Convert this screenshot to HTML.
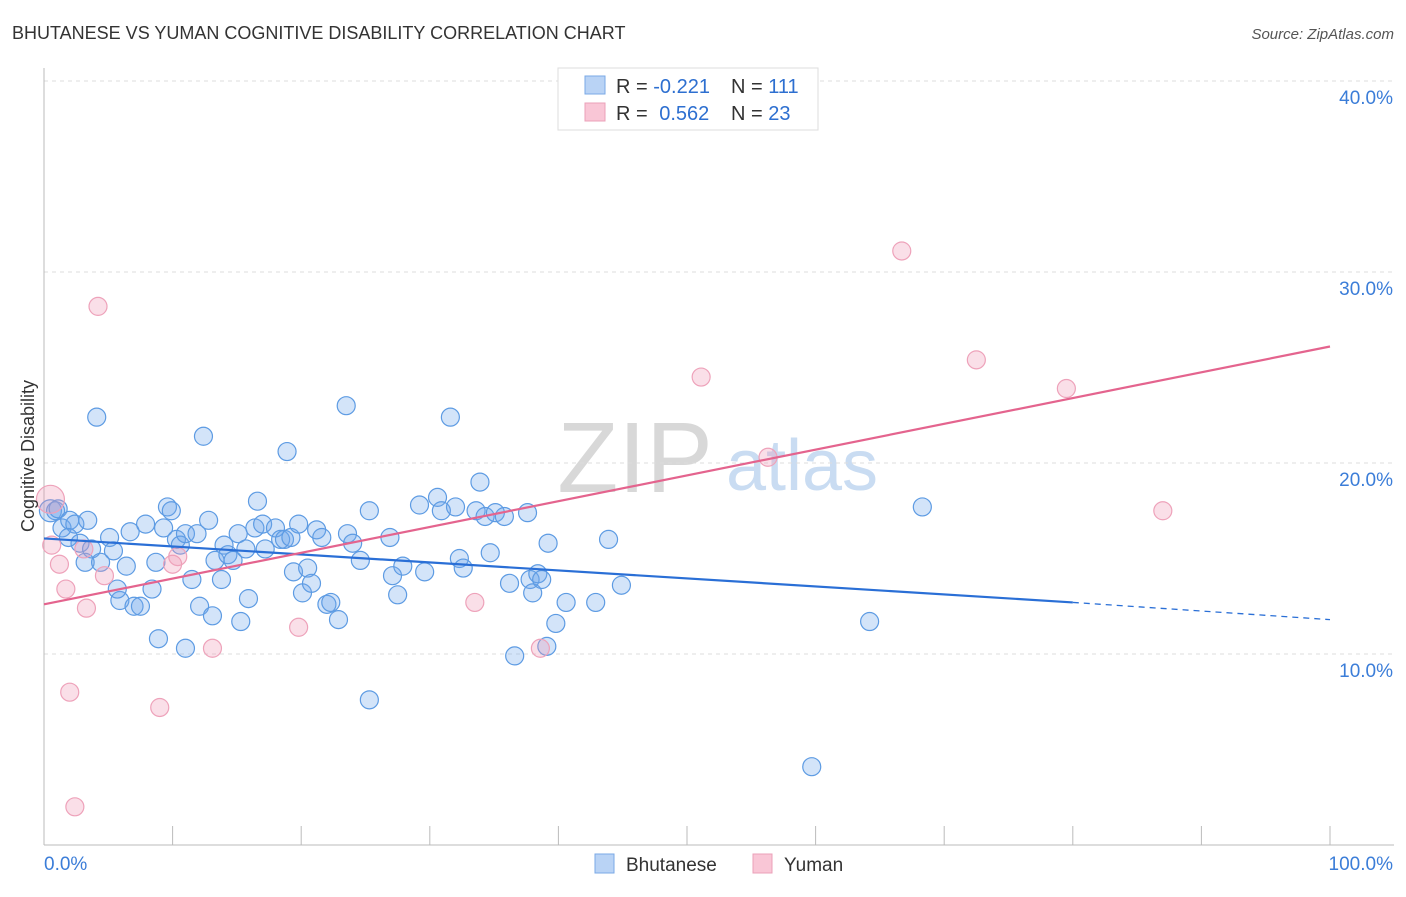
<!DOCTYPE html>
<html><head><meta charset="utf-8">
<style>
body{margin:0;background:#fff;font-family:"Liberation Sans",sans-serif;}
svg text{font-family:"Liberation Sans",sans-serif;}
</style></head>
<body>
<svg id="chart" width="1406" height="892" viewBox="0 0 1406 892">
<text x="12" y="39" font-size="18" fill="#333">BHUTANESE VS YUMAN COGNITIVE DISABILITY CORRELATION CHART</text>
<text x="1394" y="39" font-size="15" fill="#555" font-style="italic" text-anchor="end">Source: ZipAtlas.com</text>
<g>
<text x="635" y="492" font-size="100" fill="#d8d8d8" font-family="Liberation Serif" text-anchor="middle">ZIP</text>
<text x="802" y="490" font-size="72" fill="#c9dcf2" text-anchor="middle">atlas</text>
</g>
<g id="grid"></g>
<g id="axes"></g>
<g id="marks"></g>
<g id="lines"></g>
<text transform="translate(34,456) rotate(-90)" font-size="18" fill="#333" text-anchor="middle">Cognitive Disability</text>
<g>
<rect x="558" y="68" width="260" height="62" fill="#fff" stroke="#ddd"/>
<rect x="585" y="76" width="20" height="18" fill="#b9d3f5" stroke="#7aa8e6"/>
<rect x="585" y="103" width="20" height="18" fill="#f9c6d6" stroke="#eba0b8"/>
<text x="616" y="93" font-size="20" fill="#333">R = <tspan fill="#2d6fd0">-0.221</tspan></text>
<text x="731" y="93" font-size="20" fill="#333">N = <tspan fill="#2d6fd0">111</tspan></text>
<text x="616" y="120" font-size="20" fill="#333">R = <tspan fill="#2d6fd0" dx="6">0.562</tspan></text>
<text x="731" y="120" font-size="20" fill="#333">N = <tspan fill="#2d6fd0">23</tspan></text>
</g>
<g>
<rect x="595" y="854" width="19" height="19" fill="#b9d3f5" stroke="#7aa8e6"/>
<text x="626" y="871" font-size="19" fill="#333">Bhutanese</text>
<rect x="753" y="854" width="19" height="19" fill="#f9c6d6" stroke="#eba0b8"/>
<text x="784" y="871" font-size="19" fill="#333">Yuman</text>
</g>
</svg>
<script>
const yTicks=[10,20,30,40];
const yTickLabels=["10.0%","20.0%","30.0%","40.0%"];
const xTickLabels=["0.0%","100.0%"];
const blueX=[0.5,0.9,1.1,1.4,2.0,2.4,3.4,1.9,2.8,3.7,3.2,4.4,4.1,5.1,5.4,5.9,6.4,5.7,6.7,7.0,7.5,7.9,8.4,8.7,8.9,9.3,9.6,9.9,10.3,10.6,11.0,11.5,11.0,11.9,12.1,12.4,12.8,13.1,13.3,13.8,14.0,14.3,14.7,15.3,15.1,15.9,15.7,16.4,16.6,17.0,17.2,18.0,18.4,18.9,18.7,19.2,19.8,19.4,20.1,20.5,20.8,21.2,21.6,22.0,22.3,22.9,23.5,23.6,24.0,24.6,25.3,25.3,26.9,27.1,27.5,27.9,29.2,29.6,30.6,30.9,31.6,32.0,32.3,32.6,33.6,33.9,34.3,34.7,35.1,35.8,36.2,36.6,37.6,37.8,38.0,38.4,38.7,39.1,39.2,39.8,40.6,42.9,43.9,44.9,59.7,64.2,68.3];
const blueY=[17.5,17.5,17.6,16.6,17.0,16.8,17.0,16.1,15.8,15.5,14.8,14.8,22.4,16.1,15.4,12.8,14.6,13.4,16.4,12.5,12.5,16.8,13.4,14.8,10.8,16.6,17.7,17.5,16.0,15.7,16.3,13.9,10.3,16.3,12.5,21.4,17.0,12.0,14.9,13.9,15.7,15.2,14.9,11.7,16.3,12.9,15.5,16.6,18.0,16.8,15.5,16.6,16.0,20.6,16.0,16.1,16.8,14.3,13.2,14.5,13.7,16.5,16.1,12.6,12.7,11.8,23.0,16.3,15.8,14.9,17.5,7.6,16.1,14.1,13.1,14.6,17.8,14.3,18.2,17.5,22.4,17.7,15.0,14.5,17.5,19.0,17.2,15.3,17.4,17.2,13.7,9.9,17.4,13.9,13.2,14.2,13.9,10.4,15.8,11.6,12.7,12.7,16.0,13.6,4.1,11.7,17.7];
const pinkX=[0.5,0.6,1.2,1.7,2.0,2.4,3.3,3.1,4.2,4.7,9.0,10.0,10.4,13.1,19.8,33.5,38.6,51.1,56.3,66.7,72.5,79.5,87.0];
const pinkY=[18.1,15.7,14.7,13.4,8.0,2.0,12.4,15.5,28.2,14.1,7.2,14.7,15.1,10.3,11.4,12.7,10.3,24.5,20.3,31.1,25.4,23.9,17.5];
const blueTrend=[16.05,12.7,11.8]; // at x=0, 80, 100
const pinkTrend=[12.6,26.1]; // at x=0, 100

const NS="http://www.w3.org/2000/svg";
const X0=44,X1=1330,Y0=845,YS=19.1;
const sx=v=>X0+(X1-X0)*v/100;
const sy=v=>Y0-YS*v;
function mk(tag,attrs,parent){const e=document.createElementNS(NS,tag);for(const k in attrs)e.setAttribute(k,attrs[k]);document.getElementById(parent).appendChild(e);return e;}

yTicks.forEach((t,i)=>{
  const g=mk('line',{x1:X0,x2:1394,y1:sy(t),y2:sy(t),stroke:'#ddd','stroke-dasharray':'4,4'},'grid');
  
  
  const l=mk('text',{x:1393,y:sy(t)+23,'font-size':19,fill:'#3b7dd8','text-anchor':'end'},'axes');
  l.textContent=yTickLabels[i];
  
  
});
const ya=mk('line',{x1:X0,x2:X0,y1:68,y2:845,stroke:'#bbb'},'axes');


const xa=mk('line',{x1:X0,x2:1394,y1:845,y2:845,stroke:'#bbb'},'axes');


for(let i=0;i<=10;i++){
  const t=mk('line',{x1:sx(i*10),x2:sx(i*10),y1:826,y2:845,stroke:'#bbb'},'axes');
  
  
}
const xl0=mk('text',{x:44,y:870,'font-size':19,fill:'#3b7dd8'},'axes');
xl0.textContent=xTickLabels[0];


const xl1=mk('text',{x:1393,y:870,'font-size':19,fill:'#3b7dd8','text-anchor':'end'},'axes');
xl1.textContent=xTickLabels[1];



blueX.forEach((x,i)=>{
  const c=mk('circle',{cx:sx(x),cy:sy(blueY[i]),r:i===0?11:9,fill:'rgba(110,165,235,0.3)',stroke:'#5d9be3','stroke-width':1.2},'marks');
  
  
});
pinkX.forEach((x,i)=>{
  const c=mk('circle',{cx:sx(x),cy:sy(pinkY[i]),r:i===0?14:9,fill:'rgba(240,150,180,0.3)',stroke:'#eea2ba','stroke-width':1.2},'marks');
  
  
});
const bl=mk('line',{x1:sx(0),y1:sy(blueTrend[0]),x2:sx(80),y2:sy(blueTrend[1]),stroke:'#2a6fd6','stroke-width':2.2},'lines');


const bd=mk('line',{x1:sx(80),y1:sy(blueTrend[1]),x2:sx(100),y2:sy(blueTrend[2]),stroke:'#2a6fd6','stroke-width':1.3,'stroke-dasharray':'6,5'},'lines');


const pl=mk('line',{x1:sx(0),y1:sy(pinkTrend[0]),x2:sx(100),y2:sy(pinkTrend[1]),stroke:'#e4648e','stroke-width':2.2},'lines');


</script>
</body></html>
